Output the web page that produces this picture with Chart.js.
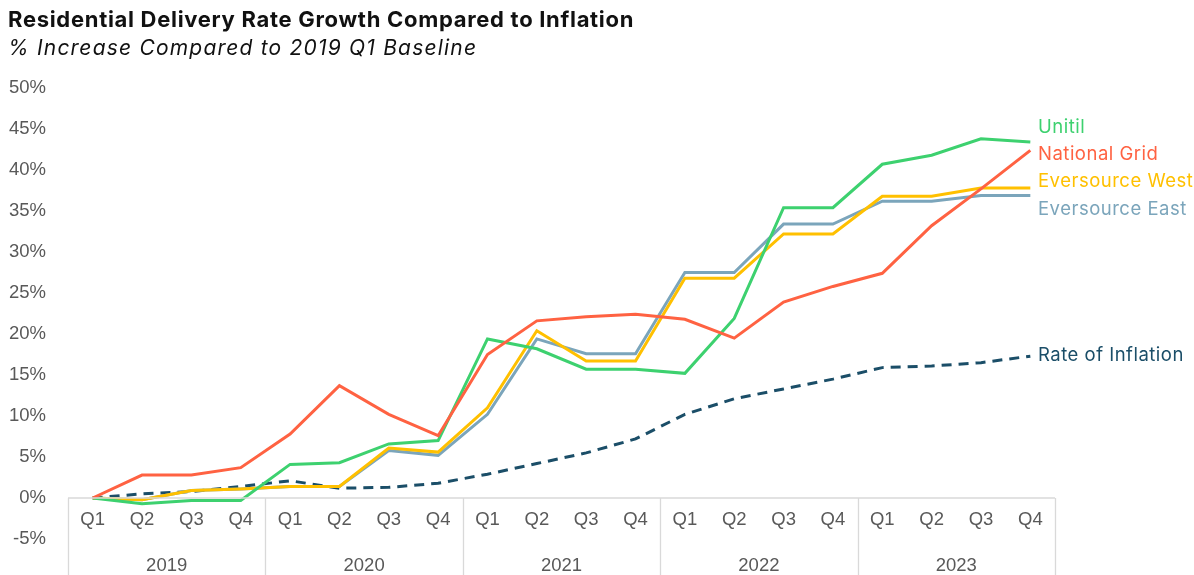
<!DOCTYPE html>
<html>
<head>
<meta charset="utf-8">
<script src="https://cdn.jsdelivr.net/npm/chart.js@4.4.1/dist/chart.umd.min.js"></script>
<style>
  html, body { margin: 0; padding: 0; background: #fff; }
  #wrap { position: relative; width: 1194px; height: 575px; }
  #title { position: absolute; left: 8px; top: 6px; font-family: Inter, "Open Sans", sans-serif; font-weight: 700; font-size: 22px; line-height: 1.21; color: #111; letter-spacing: 0.7px; white-space: nowrap; }
  #subtitle { position: absolute; left: 8px; top: 35px; font-family: Inter, "Open Sans", sans-serif; font-style: italic; font-size: 21px; line-height: 1.21; color: #111; letter-spacing: 1.2px; white-space: nowrap; }
  canvas { position: absolute; left: 0; top: 0; }
</style>
</head>
<body>
<div id="wrap">
  <canvas id="c" width="1194" height="575"></canvas>
  <div id="title">Residential Delivery Rate Growth Compared to Inflation</div>
  <div id="subtitle">% Increase Compared to 2019 Q1 Baseline</div>
</div>
<script>
const years = ["2019", "2020", "2021", "2022", "2023"];
const quarters = ["Q1", "Q2", "Q3", "Q4"];
const categories = years.flatMap(y => quarters.map(q => y + " " + q));

const unitil          = [0, -0.7, -0.3, -0.3, 4.1, 4.3, 6.6, 7.0, 19.4, 18.2, 15.7, 15.7, 15.2, 21.9, 35.4, 35.4, 40.7, 41.8, 43.8, 43.4];
const nationalGrid    = [0, 2.8, 2.8, 3.7, 7.8, 13.7, 10.2, 7.6, 17.5, 21.6, 22.1, 22.4, 21.8, 19.5, 23.9, 25.8, 27.4, 33.2, 37.7, 42.4];
const eversourceWest  = [0, -0.2, 0.9, 1.1, 1.4, 1.4, 6.1, 5.6, 11.0, 20.4, 16.7, 16.7, 26.8, 26.8, 32.2, 32.2, 36.8, 36.8, 37.8, 37.8];
const eversourceEast  = [0, -0.2, 0.9, 1.1, 1.4, 1.4, 5.8, 5.2, 10.2, 19.4, 17.6, 17.6, 27.5, 27.5, 33.4, 33.4, 36.2, 36.2, 36.9, 36.9];
const inflation       = [0, 0.5, 0.8, 1.4, 2.1, 1.2, 1.3, 1.8, 2.9, 4.2, 5.5, 7.2, 10.2, 12.1, 13.3, 14.5, 15.9, 16.1, 16.5, 17.3];

const yTicks = [-5, 0, 5, 10, 15, 20, 25, 30, 35, 40, 45, 50];

const COLORS = {
  unitil: "#3DD16F",
  grid: "#FF6242",
  west: "#FFC000",
  east: "#7BA5BB",
  infl: "#1B4E68"
};

// end-of-line label placement (value-space nudges to avoid overlaps)
const endLabels = [
  { text: "Unitil", color: COLORS.unitil, nudge: 1.8 },
  { text: "National Grid", color: COLORS.grid, nudge: -0.5 },
  { text: "Eversource West", color: COLORS.west, nudge: 0.75 },
  { text: "Eversource East", color: COLORS.east, nudge: -1.65 },
  { text: "Rate of Inflation", color: COLORS.infl, nudge: 0.05 }
];

const AXIS_FONT = "18.5px 'Liberation Sans', Arial, sans-serif";

const boxPlugin = {
  id: "boxPlugin",
  afterDatasetsDraw(chart) {
    const { ctx, chartArea } = chart;
    const x = chart.scales.x, y = chart.scales.y;
    const y0 = y.getPixelForValue(0);
    const bottom = chart.height;
    ctx.save();
    ctx.strokeStyle = "#D9D9D9";
    ctx.lineWidth = 1.3;
    ctx.beginPath();
    ctx.moveTo(chartArea.left, y0);
    ctx.lineTo(chartArea.right, y0);
    const step = (x.getPixelForValue(1) - x.getPixelForValue(0));
    for (let i = 0; i <= years.length; i++) {
      const px = Math.round(x.getPixelForValue(i * 4) - step / 2) + 0.5;
      ctx.moveTo(px, y0);
      ctx.lineTo(px, bottom);
    }
    ctx.stroke();
    ctx.fillStyle = "#595959";
    ctx.font = AXIS_FONT;
    ctx.textAlign = "center";
    ctx.textBaseline = "middle";
    categories.forEach((c, i) => {
      ctx.fillText(quarters[i % 4], x.getPixelForValue(i), y0 + 22);
    });
    years.forEach((yr, k) => {
      const cx = (x.getPixelForValue(k * 4) + x.getPixelForValue(k * 4 + 3)) / 2;
      ctx.fillText(yr, cx, y0 + 68);
    });
    // end labels
    ctx.textAlign = "left";
    ctx.font = "18.5px Inter, 'Open Sans', sans-serif";
    if ("letterSpacing" in ctx) ctx.letterSpacing = "0.5px";
    chart.data.datasets.forEach((ds) => {
      const lab = endLabels.find(l => l.text === ds.label);
      if (!lab) return;
      const last = ds.data[ds.data.length - 1];
      const py = y.getPixelForValue(last + lab.nudge);
      ctx.fillStyle = lab.color;
      ctx.fillText(lab.text, chartArea.right - 17, py);
    });
    ctx.restore();
  }
};

new Chart(document.getElementById("c"), {
  type: "line",
  data: {
    labels: categories,
    datasets: [
      { label: "Rate of Inflation", data: inflation, borderColor: COLORS.infl, borderDash: [10, 7], borderWidth: 3, order: 5 },
      { label: "Eversource East", data: eversourceEast, borderColor: COLORS.east, borderWidth: 3, order: 4 },
      { label: "Eversource West", data: eversourceWest, borderColor: COLORS.west, borderWidth: 3, order: 3 },
      { label: "Unitil", data: unitil, borderColor: COLORS.unitil, borderWidth: 3, order: 2 },
      { label: "National Grid", data: nationalGrid, borderColor: COLORS.grid, borderWidth: 3, order: 1 }
    ]
  },
  options: {
    responsive: false,
    animation: false,
    layout: { padding: { top: 88, right: 139, bottom: 36, left: 0 } },
    elements: { point: { radius: 0 }, line: { tension: 0, borderCapStyle: "butt", borderJoinStyle: "miter" } },
    plugins: { legend: { display: false }, tooltip: { enabled: false } },
    scales: {
      x: { type: "category", offset: true, display: false },
      y: {
        min: -5, max: 50,
        afterFit(s) { s.width = 68; },
        afterBuildTicks(s) { s.ticks = yTicks.map(v => ({ value: v })); },
        grid: { display: false, drawTicks: false },
        border: { display: false },
        ticks: {
          padding: 22,
          color: "#595959",
          font: { family: "'Liberation Sans', Arial, sans-serif", size: 18.5 },
          callback: v => v + "%"
        }
      }
    }
  },
  plugins: [boxPlugin]
});
</script>
</body>
</html>
